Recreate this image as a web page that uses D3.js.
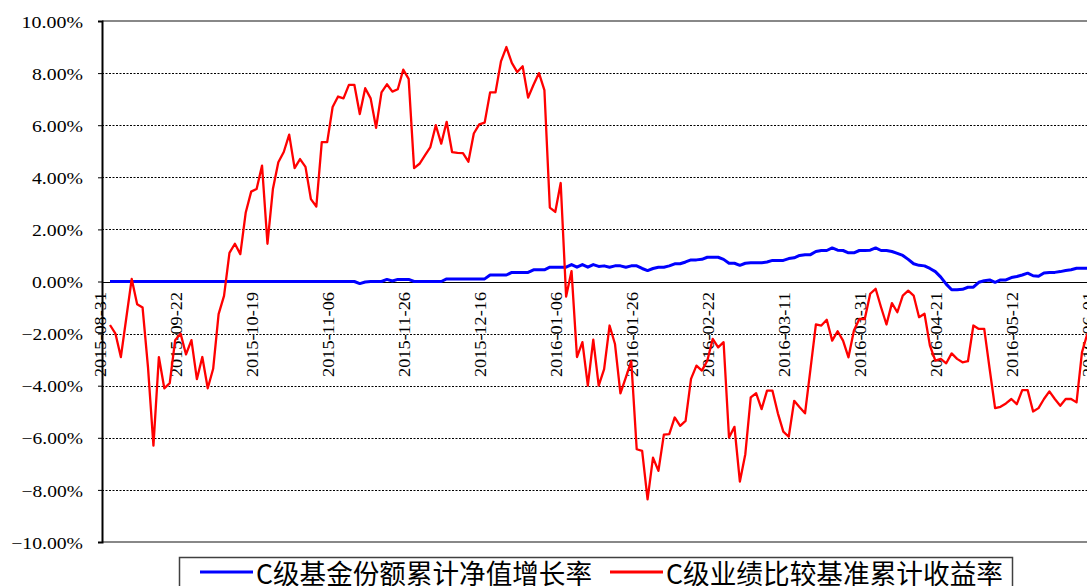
<!DOCTYPE html>
<html><head><meta charset="utf-8">
<script src="https://d3js.org/d3.v7.min.js"></script>
<style>html,body{margin:0;padding:0;background:#fff;overflow:hidden}svg{display:block}</style>
</head><body>
<svg id="chart" width="1087" height="586"></svg>
<script>
// ---- data ----
const tickLabels = ["2015-08-31","2015-09-22","2015-10-19","2015-11-06","2015-11-26","2015-12-16","2016-01-06","2016-01-26","2016-02-22","2016-03-11","2016-03-31","2016-04-21","2016-05-12","2016-06-01"];
const tickEvery = 14; // trading days between labels
const yTicks = [-10,-8,-6,-4,-2,0,2,4,6,8,10];
const seriesNames = ["C级基金份额累计净值增长率","C级业绩比较基准累计收益率"];
const navGrowth = [
0,0,0,0,0,0,0,0,0,0, 0,0,0,0,0,0,0,0,0,0, 0,0,0,0,0,0,0,0,0,0,
0,0,0,0,0,0,0,0,0,0, 0,0,0,0,0,0,-0.08,-0.02,0,0,
0,0.08,0.02,0.08,0.08,0.08,0,0,0,0, 0,0,0.1,0.1,0.1,0.1,0.1,0.1,0.1,0.1,
0.25,0.25,0.25,0.25,0.35,0.35,0.35,0.35,0.45,0.45, 0.45,0.55,0.55,0.55,0.55,0.65,0.55,0.65,0.55,0.65,
0.58,0.6,0.55,0.6,0.6,0.55,0.6,0.6,0.5,0.42, 0.5,0.55,0.55,0.6,0.68,0.68,0.75,0.83,0.83,0.85,
0.93,0.93,0.93,0.85,0.7,0.7,0.62,0.7,0.72,0.72, 0.72,0.75,0.81,0.81,0.81,0.88,0.91,1.0,1.03,1.03,
1.15,1.19,1.19,1.29,1.2,1.19,1.1,1.1,1.19,1.19, 1.2,1.29,1.19,1.19,1.15,1.08,1.0,0.85,0.68,0.62,
0.6,0.5,0.38,0.17,-0.1,-0.32,-0.32,-0.3,-0.22,-0.22, -0.03,0.03,0.06,-0.03,0.06,0.06,0.15,0.19,0.25,0.32,
0.22,0.2,0.33,0.35,0.35,0.38,0.42,0.45,0.51,0.51, 0.51
];
const benchmark = [
-1.67,-2.0,-2.9,-1.4,0.1,-0.87,-1.0,-3.3,-6.3,-2.9,
-4.1,-3.9,-2.25,-2.0,-2.8,-2.25,-3.75,-2.9,-4.1,-3.35,
-1.25,-0.55,1.1,1.45,1.05,2.65,3.45,3.55,4.45,1.45,
3.55,4.58,4.97,5.64,4.35,4.7,4.4,3.16,2.88,5.35,
5.35,6.7,7.1,7.03,7.55,7.55,6.43,7.42,7.03,5.9,
7.26,7.57,7.29,7.38,8.13,7.78,4.35,4.52,4.84,5.16,
6.0,5.29,6.13,4.97,4.94,4.93,4.6,5.68,6.03,6.1,
7.26,7.26,8.45,9.0,8.39,8.04,8.26,7.06,7.55,8.0,
7.35,2.84,2.67,3.78,-0.58,0.4,-2.9,-2.33,-4.0,-2.23,
-4.0,-3.36,-1.69,-2.4,-4.29,-3.68,-3.06,-6.44,-6.5,-8.36,
-6.76,-7.27,-5.88,-5.86,-5.22,-5.54,-5.35,-3.74,-3.23,-3.42,
-3.04,-2.2,-2.53,-2.33,-5.99,-5.58,-7.68,-6.63,-4.45,-4.29,
-4.9,-4.19,-4.19,-5.06,-5.76,-5.96,-4.58,-4.83,-5.06,-3.36,
-1.65,-1.69,-1.47,-2.27,-1.91,-2.27,-2.91,-1.88,-1.44,-1.44,
-0.47,-0.28,-0.99,-1.65,-0.83,-1.18,-0.54,-0.35,-0.54,-1.37,
-1.24,-2.46,-3.04,-2.97,-3.14,-2.76,-2.97,-3.1,-3.06,-1.69,
-1.82,-1.82,-3.36,-4.86,-4.81,-4.68,-4.51,-4.71,-4.17,-4.17,
-4.99,-4.86,-4.51,-4.22,-4.51,-4.77,-4.51,-4.51,-4.64,-2.72,
-2.0
];
const seriesColors = ["#0000FF","#FF0000"];

// ---- layout ----
const svg = d3.select("#chart");
const plotLeft = 102, plotRight = 1200, plotTop = 21, plotBottom = 542;
const x = d3.scaleLinear().domain([0, 180]).range([110, 110 + 5.43 * 180]);
const y = d3.scaleLinear().domain([-10, 10]).range([plotBottom, plotTop]);
const crisp = v => Math.round(v) + 0.5;

// gridlines
svg.append("g").selectAll("line").data(yTicks.filter(v => v !== 0 && Math.abs(v) !== 10)).join("line")
  .attr("x1", plotLeft).attr("x2", plotRight)
  .attr("y1", d => crisp(y(d))).attr("y2", d => crisp(y(d)))
  .attr("stroke", "#000").attr("stroke-width", 1).attr("stroke-dasharray", "2,1.5");

// top / bottom borders
[10, -10].forEach(v => {
  svg.append("line").attr("x1", plotLeft).attr("x2", plotRight)
    .attr("y1", Math.round(y(v))).attr("y2", Math.round(y(v))).attr("stroke", "#888").attr("stroke-width", 2);
});

// zero line (category axis)
svg.append("line").attr("x1", plotLeft).attr("x2", plotRight)
  .attr("y1", crisp(y(0))).attr("y2", crisp(y(0))).attr("stroke", "#000").attr("stroke-width", 1);

// y axis
const yAxis = d3.axisLeft(y).tickValues(yTicks).tickSize(4).tickFormat(d => d3.format(".2f")(d) + "%");
const gy = svg.append("g").attr("transform", `translate(${plotLeft},0)`).call(yAxis);
gy.select(".domain").attr("stroke", "#000").attr("stroke-width", 2);
gy.selectAll(".tick line").attr("stroke", "#000");
gy.selectAll(".tick text")
  .attr("x", -19).attr("dy", "0.36em")
  .attr("font-family", "'Liberation Serif', serif").attr("font-size", 17).attr("fill", "#000")
  .attr("textLength", function(){ return this.textContent.length * 10.4 - 1; })
  .attr("lengthAdjust", "spacingAndGlyphs");

// x labels
const labelIdx = tickLabels.map((d, k) => k * tickEvery);
svg.append("g").selectAll("text").data(tickLabels).join("text")
  .attr("transform", (d, k) => `translate(${x(labelIdx[k]) - 10.5},292) rotate(-90)`)
  .attr("text-anchor", "end").attr("dy", "0.36em")
  .attr("font-family", "'Liberation Serif', serif").attr("font-size", 17).attr("fill", "#000")
  .attr("textLength", 85).attr("lengthAdjust", "spacingAndGlyphs")
  .text(d => d);

// lines
const line = d3.line().x((d, i) => x(i)).y(d => y(d));
svg.append("path").datum(navGrowth).attr("d", line)
  .attr("fill", "none").attr("stroke", seriesColors[0]).attr("stroke-width", 3).attr("stroke-linejoin", "round");
svg.append("path").datum(benchmark).attr("d", line)
  .attr("fill", "none").attr("stroke", seriesColors[1]).attr("stroke-width", 2.3).attr("stroke-linejoin", "round");

// legend
const lg = svg.append("g");
lg.append("rect").attr("x", 179.5).attr("y", 557.5).attr("width", 833).attr("height", 60)
  .attr("fill", "#fff").attr("stroke", "#404040").attr("stroke-width", 1.5);
const legendItems = [{sx: 200, ex: 253, tx: 256}, {sx: 610, ex: 663, tx: 666}];
legendItems.forEach((it, k) => {
  lg.append("line").attr("x1", it.sx).attr("x2", it.ex).attr("y1", 572).attr("y2", 572)
    .attr("stroke", seriesColors[k]).attr("stroke-width", 3);
  lg.append("text").attr("x", it.tx).attr("y", 584)
    .attr("font-family", "'Noto Sans CJK SC', sans-serif").attr("font-size", 27).attr("fill", "#000")
    .attr("textLength", k === 0 ? 336 : 337).attr("lengthAdjust", "spacingAndGlyphs")
    .text(seriesNames[k]);
});
</script>
</body></html>
